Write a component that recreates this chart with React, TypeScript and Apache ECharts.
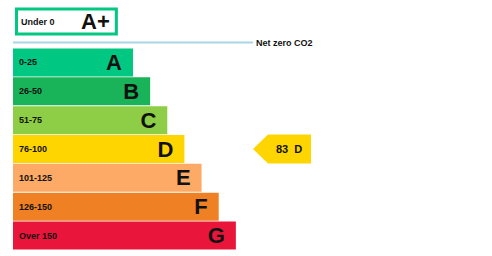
import React, { useEffect, useRef } from "react";
import * as echarts from "echarts";

// EPC-style carbon bands
const bandLetters = ["A", "B", "C", "D", "E", "F", "G"];
const bandRanges = ["0-25", "26-50", "51-75", "76-100", "101-125", "126-150", "Over 150"];
const bandUpper = [25, 50, 75, 100, 125, 150, Infinity];
const bandLengths = [7, 8, 9, 10, 11, 12, 13];
const bandColors = ["#00c781", "#19b459", "#8dce46", "#ffd500", "#fcaa65", "#ef8023", "#e9153b"];

// Net-zero band shown above the scale
const topLetter = "A+";
const topRange = "Under 0";
const topLength = 6;
const topColor = "#00c781";

const netZeroLabel = "Net zero CO2";
const currentScore = 83;

const FONT = "Liberation Sans, Arial, sans-serif";
const SCALE_MAX = 14;

export default function App() {
  const ref = useRef<HTMLDivElement>(null);

  useEffect(() => {
    if (!ref.current) return;
    const chart = echarts.init(ref.current, null, { renderer: "svg" });

    const currentBand = bandUpper.findIndex((u) => currentScore <= u);

    const letterLabel = (size: number, distance: number) => ({
      show: true,
      position: "insideRight" as const,
      distance,
      color: "#111",
      fontFamily: FONT,
      fontWeight: "bold" as const,
      fontSize: size,
    });
    const rangeLabel = {
      show: true,
      position: "insideLeft" as const,
      distance: 6,
      color: "#111",
      fontFamily: FONT,
      fontWeight: "bold" as const,
      fontSize: 9,
    };

    chart.setOption({
      animation: false,
      grid: [
        { left: 15, top: 7.5, width: 240, height: 28 },
        { left: 13, top: 48, width: 240, height: 202 },
      ],
      xAxis: [
        { gridIndex: 0, type: "value", min: 0, max: SCALE_MAX, show: false },
        { gridIndex: 1, type: "value", min: 0, max: SCALE_MAX, show: false },
      ],
      yAxis: [
        { gridIndex: 0, type: "category", data: [topLetter], show: false },
        { gridIndex: 1, type: "category", data: bandLetters, inverse: true, show: false },
      ],
      graphic: [
        {
          type: "line",
          shape: { x1: 13, y1: 42.5, x2: 253, y2: 42.5 },
          style: { stroke: "#a9d5e6", lineWidth: 2 },
        },
        {
          type: "text",
          x: 256,
          y: 42.5,
          style: {
            text: netZeroLabel,
            fill: "#111",
            font: `bold 9px ${FONT}`,
            verticalAlign: "middle",
            align: "left",
          },
        },
      ],
      series: [
        {
          type: "bar",
          xAxisIndex: 0,
          yAxisIndex: 0,
          barWidth: 28,
          barGap: "-100%",
          data: [topLength],
          itemStyle: { color: "#fff", borderColor: topColor, borderWidth: 3 },
          label: { ...letterLabel(22, 8), formatter: topLetter },
          z: 2,
        },
        {
          type: "bar",
          xAxisIndex: 0,
          yAxisIndex: 0,
          barWidth: 28,
          barGap: "-100%",
          data: [topLength],
          itemStyle: { color: "rgba(0,0,0,0)" },
          label: { ...rangeLabel, formatter: topRange },
          z: 3,
        },
        {
          type: "bar",
          xAxisIndex: 1,
          yAxisIndex: 1,
          barWidth: 28,
          barGap: "-100%",
          data: bandLengths.map((v, i) => ({ value: v, itemStyle: { color: bandColors[i] } })),
          label: { ...letterLabel(22, 11), formatter: (p: any) => bandLetters[p.dataIndex] },
          z: 2,
        },
        {
          type: "bar",
          xAxisIndex: 1,
          yAxisIndex: 1,
          barWidth: 28,
          barGap: "-100%",
          data: bandLengths,
          itemStyle: { color: "rgba(0,0,0,0)" },
          label: { ...rangeLabel, formatter: (p: any) => bandRanges[p.dataIndex] },
          z: 3,
        },
        {
          type: "custom",
          xAxisIndex: 1,
          yAxisIndex: 1,
          data: [[currentScore, currentBand]],
          z: 4,
          renderItem: (params: any, api: any) => {
            const band = api.value(1);
            const [x0, yc] = api.coord([SCALE_MAX, band]);
            const h = 29;
            const tip = 15;
            const w = 58;
            return {
              type: "group",
              children: [
                {
                  type: "polygon",
                  shape: {
                    points: [
                      [x0, yc],
                      [x0 + tip, yc - h / 2],
                      [x0 + w, yc - h / 2],
                      [x0 + w, yc + h / 2],
                      [x0 + tip, yc + h / 2],
                    ],
                  },
                  style: { fill: bandColors[band] },
                },
                {
                  type: "text",
                  x: x0 + 23,
                  y: yc,
                  style: {
                    text: `${api.value(0)}  ${bandLetters[band]}`,
                    fill: "#111",
                    font: `bold 11px ${FONT}`,
                    verticalAlign: "middle",
                    align: "left",
                  },
                },
              ],
            };
          },
        },
      ],
    });

    return () => chart.dispose();
  }, []);

  return (
    <div
      ref={ref}
      style={{ position: "fixed", left: 0, top: 0, width: 492, height: 256, background: "#fff" }}
    />
  );
}
